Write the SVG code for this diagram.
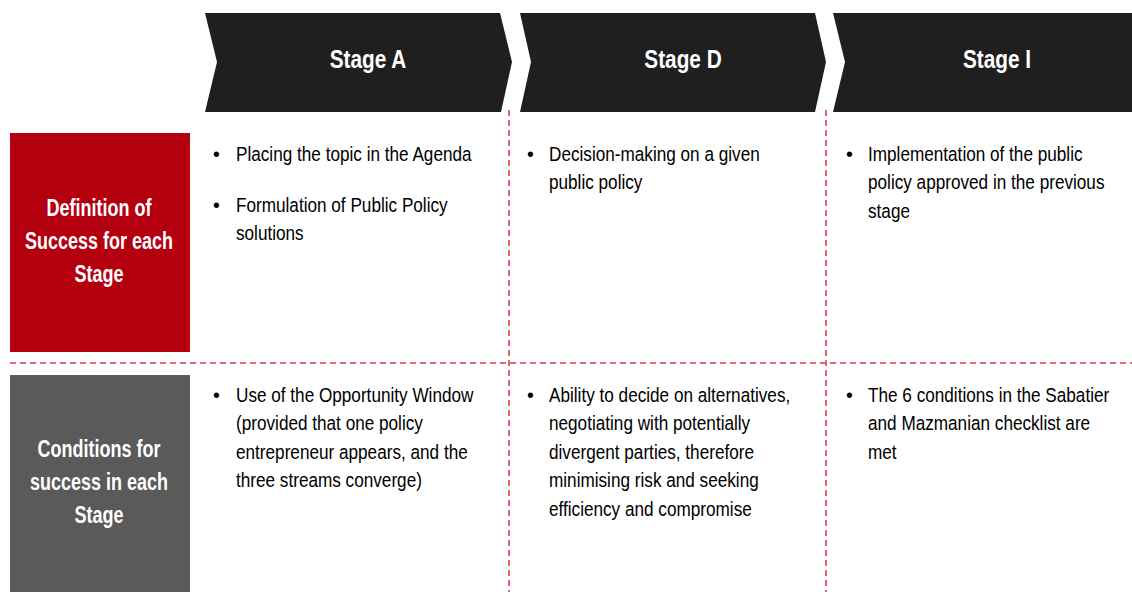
<svg xmlns="http://www.w3.org/2000/svg" width="1132" height="592" viewBox="0 0 1132 592">
<style>
.chev{fill:#1f1f1f}
.hdr{font-family:"Liberation Sans",Arial,sans-serif;font-weight:bold;font-size:26px;fill:#ffffff;text-anchor:middle}
.lbl{font-family:"Liberation Sans",Arial,sans-serif;font-weight:bold;font-size:24px;fill:#ffffff;text-anchor:middle}
.body{font-family:"Liberation Sans",Arial,sans-serif;font-size:19.5px;fill:#000000}
.dash{stroke:#e03a4e;stroke-width:1.6;stroke-dasharray:6 4;fill:none}
</style>
<rect width="1132" height="592" fill="#ffffff"/>
<g id="connectors">
<line class="dash" x1="10" y1="363" x2="1132" y2="363"/>
<line class="dash" x1="509" y1="110" x2="509" y2="592"/>
<line class="dash" x1="826" y1="110" x2="826" y2="592"/>
</g>
<g id="stageA">
<path class="chev" d="M205,13 L500,13 L512,62 L501,112 L205,112 L217,62 Z"/>
<g transform="translate(368 68) scale(0.8 1)"><text class="hdr" x="0" y="0">Stage A</text></g>
</g>
<g id="stageD">
<path class="chev" d="M520,13 L815,13 L826,62 L815,112 L520,112 L531,62 Z"/>
<g transform="translate(683 68) scale(0.8 1)"><text class="hdr" x="0" y="0">Stage D</text></g>
</g>
<g id="stageI">
<path class="chev" d="M833,13 L1132,13 L1132,112 L833,112 L845,62 Z"/>
<g transform="translate(997 68) scale(0.8 1)"><text class="hdr" x="0" y="0">Stage I</text></g>
</g>
<g id="definition">
<rect x="10" y="133" width="180" height="219" fill="#b4000e"/>
<g transform="translate(99 0) scale(0.75 1)">
<text class="lbl" x="0" y="216">Definition of</text>
<text class="lbl" x="0" y="249">Success for each</text>
<text class="lbl" x="0" y="282">Stage</text>
</g>
</g>
<g id="conditions">
<rect x="10" y="375" width="180" height="217" fill="#5a5a5a"/>
<g transform="translate(99 0) scale(0.75 1)">
<text class="lbl" x="0" y="457">Conditions for</text>
<text class="lbl" x="0" y="490">success in each</text>
<text class="lbl" x="0" y="523">Stage</text>
</g>
</g>
<g id="defA">
<text class="body" x="213" y="161">•</text>
<text class="body" x="213" y="212">•</text>
<g transform="translate(236 0) scale(0.88 1)">
<text class="body" x="0" y="161">Placing the topic in the Agenda</text>
<text class="body" x="0" y="212">Formulation of Public Policy</text>
<text class="body" x="0" y="240">solutions</text>
</g>
</g>
<g id="defD">
<text class="body" x="527" y="161">•</text>
<g transform="translate(549 0) scale(0.88 1)">
<text class="body" x="0" y="161">Decision-making on a given</text>
<text class="body" x="0" y="189.5">public policy</text>
</g>
</g>
<g id="defI">
<text class="body" x="846" y="161">•</text>
<g transform="translate(868 0) scale(0.88 1)">
<text class="body" x="0" y="161">Implementation of the public</text>
<text class="body" x="0" y="189.5">policy approved in the previous</text>
<text class="body" x="0" y="218">stage</text>
</g>
</g>
<g id="condA">
<text class="body" x="213" y="402">•</text>
<g transform="translate(236 0) scale(0.88 1)">
<text class="body" x="0" y="402">Use of the Opportunity Window</text>
<text class="body" x="0" y="430.5">(provided that one policy</text>
<text class="body" x="0" y="459">entrepreneur appears, and the</text>
<text class="body" x="0" y="487.5">three streams converge)</text>
</g>
</g>
<g id="condD">
<text class="body" x="527" y="402">•</text>
<g transform="translate(549 0) scale(0.88 1)">
<text class="body" x="0" y="402">Ability to decide on alternatives,</text>
<text class="body" x="0" y="430.5">negotiating with potentially</text>
<text class="body" x="0" y="459">divergent parties, therefore</text>
<text class="body" x="0" y="487.5">minimising risk and seeking</text>
<text class="body" x="0" y="516">efficiency and compromise</text>
</g>
</g>
<g id="condI">
<text class="body" x="846" y="402">•</text>
<g transform="translate(868 0) scale(0.88 1)">
<text class="body" x="0" y="402">The 6 conditions in the Sabatier</text>
<text class="body" x="0" y="430.5">and Mazmanian checklist are</text>
<text class="body" x="0" y="459">met</text>
</g>
</g>
</svg>
